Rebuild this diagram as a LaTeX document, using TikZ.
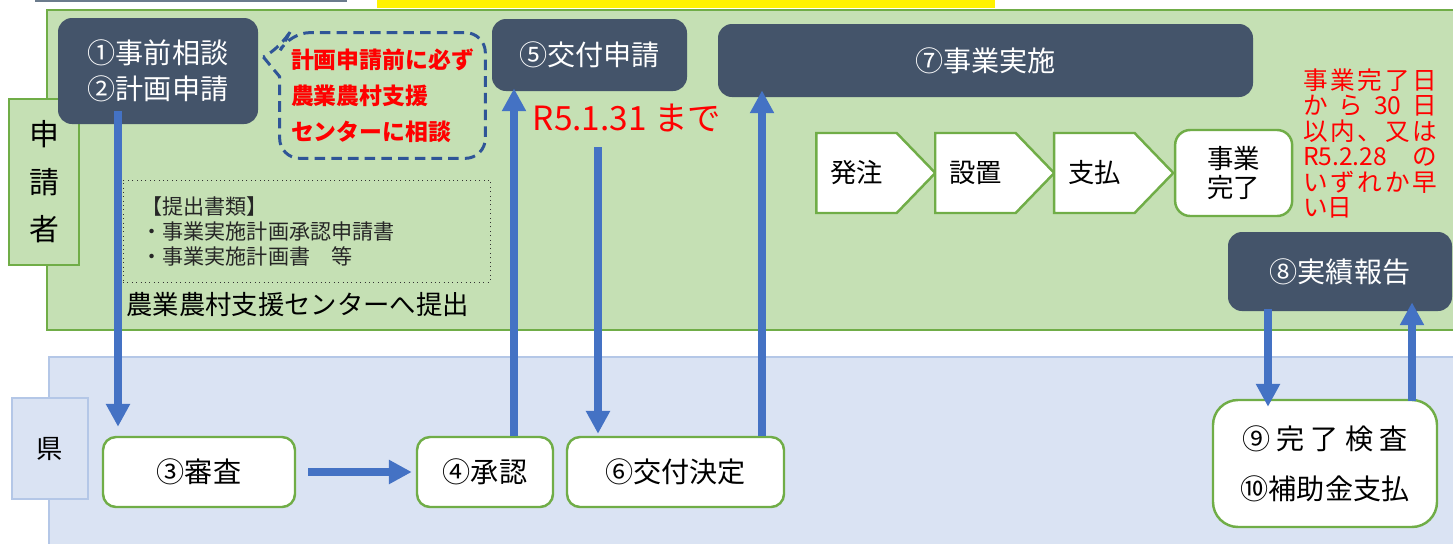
\documentclass[tikz,border=0pt]{standalone}
\usepackage{fontspec}
\setmainfont{Noto Sans CJK JP}
\usepackage{xcolor}
\usetikzlibrary{arrows.meta,shapes,positioning,calc}
\definecolor{panelgreen}{HTML}{C5E0B4}
\definecolor{greenline}{HTML}{70AD47}
\definecolor{panelblue}{HTML}{DAE3F3}
\definecolor{blueline}{HTML}{B4C7E7}
\definecolor{slate}{HTML}{44546A}
\definecolor{flowblue}{HTML}{4472C4}
\definecolor{calloutblue}{HTML}{2F5597}
\definecolor{topgray}{HTML}{6B7B8C}
\newcommand{\spreadline}[1]{\makebox[2.68cm][s]{#1}}

\begin{document}
\begin{tikzpicture}[
    darkbox/.style={rectangle, fill=slate, rounded corners=0.28cm, text=white, align=center, font=\fontsize{16}{20.5}\selectfont},
    whitebox/.style={rectangle, draw=greenline, line width=1.4pt, fill=white, rounded corners=0.26cm, align=center, font=\fontsize{16}{28.5}\selectfont},
    stepsig/.style={signal, signal to=east, signal pointer angle=92, draw=greenline, line width=1.4pt, fill=white, minimum width=2.38cm, minimum height=1.6cm, font=\fontsize{15}{18}\selectfont},
    lane/.style={rectangle, line width=1.4pt, align=center},
    flow/.style={draw=flowblue, line width=4pt, -{Triangle[width=13pt,length=13pt]}}
]
    \clip (0,0) rectangle (29.06,-10.88);

    % lanes
    \draw[draw=greenline, fill=panelgreen, line width=1.7pt] (0.94,-0.2) rectangle (29.5,-6.6);
    \draw[draw=blueline, fill=panelblue, line width=1.2pt] (0.98,-7.14) rectangle (29.5,-11.2);
    \fill[topgray] (0.7,0.1) rectangle (6.94,-0.04);
    \fill[yellow] (7.54,0.1) rectangle (19.9,-0.16);

    \node[lane, draw=greenline, fill=panelgreen, minimum width=1.4cm, minimum height=3.32cm, font=\fontsize{17}{27}\selectfont] (shinseisha) at (0.88,-3.64) {申\\請\\者};
    \node[lane, draw=blueline, fill=panelblue, minimum width=1.52cm, minimum height=2.02cm, font=\fontsize{15}{18}\selectfont] (ken) at (1.0,-8.97) {県};

    % applicant side
    \node[darkbox, minimum width=4cm, minimum height=2.12cm] (pre) at (3.16,-1.42) {①事前相談\\②計画申請};
    \node[minimum width=4.1cm, minimum height=2.5cm, text=red, align=left, font=\bfseries\fontsize{13}{20.5}\selectfont] (soudan) at (7.65,-1.91) {計画申請前に必ず\\農業農村支援\\センターに相談};
    \draw[calloutblue, dash pattern=on 6pt off 3.5pt, line width=1.7pt] ($(pre.east)+(0.1,0.28)$) -- ([yshift=-0.88cm]soudan.north west) [rounded corners=0.4cm] -- (soudan.south west) -- (soudan.south east) -- (soudan.north east) -- ([xshift=0.2cm]soudan.north west) -- ([xshift=0.04cm,yshift=-0.3cm]soudan.north west) [sharp corners] -- cycle;
    \node[darkbox, minimum width=3.9cm, minimum height=1.44cm] (kofu) at (11.79,-1.1) {⑤交付申請};
    \node[text=red, font=\fontsize{19}{21}\selectfont] (shimekiri) at (12.54,-2.36) {R5.1.31 まで};
    \node[darkbox, minimum width=10.7cm, minimum height=1.46cm] (jigyo) at (19.71,-1.21) {⑦事業実施};

    \node[rectangle, draw=black!80, dotted, line width=0.5pt, minimum width=7.34cm, minimum height=2.04cm, text width=6.6cm, inner xsep=0.37cm, align=left, text=black!85, font=\fontsize{12}{14.2}\selectfont] (shorui) at (6.13,-4.62) {【提出書類】\\・事業実施計画承認申請書\\・事業実施計画書　等};
    \node[anchor=west, inner sep=0, font=\fontsize{15}{18}\selectfont] (teishutsu) at (2.52,-6.1) {農業農村支援センターへ提出};

    \node[stepsig, signal from=nowhere] (hatchu) at (17.13,-3.46) {発注};
    \node[stepsig, right=-0.06cm of hatchu] (setchi) {設置};
    \node[stepsig, right=-0.06cm of setchi] (shiharai) {支払};
    \node[whitebox, right=-0.02cm of shiharai, minimum width=2.34cm, minimum height=1.72cm, rounded corners=0.3cm, font=\fontsize{15}{17}\selectfont] (kanryo) {事業\\完了};

    \node[text=red, align=left, inner sep=0, font=\fontsize{14}{14.5}\selectfont] (kigen) at (27.4,-2.87) {\spreadline{事\hfill 業\hfill 完\hfill 了\hfill 日}\\\spreadline{か\hfill ら\hfill 30\hfill 日}\\\spreadline{以\hfill 内\hfill 、\hfill 又\hfill は}\\\spreadline{R5.2.28\hfill の}\\\spreadline{い\hfill ず\hfill れ\hfill か\hfill 早}\\い日};

    \node[darkbox, minimum width=4.48cm, minimum height=1.58cm] (jisseki) at (26.8,-5.43) {⑧実績報告};

    % prefecture side
    \node[whitebox, minimum width=3.84cm, minimum height=1.4cm] (shinsa) at (3.98,-9.44) {③審査};
    \node[whitebox, minimum width=2.72cm, minimum height=1.4cm] (shonin) at (9.7,-9.44) {④承認};
    \node[whitebox, minimum width=4.34cm, minimum height=1.4cm] (kettei) at (13.51,-9.44) {⑥交付決定};
    \node[whitebox, minimum width=4.48cm, minimum height=2.54cm, rounded corners=0.5cm] (kensa) at (26.5,-9.27) {⑨ 完 了 検 査\\⑩補助金支払};

    % arrows
    \coordinate (a1top) at ([xshift=-0.8cm,yshift=0.26cm]pre.south);
    \coordinate (a3foot) at ([xshift=0.58cm]shonin.north);
    \coordinate (a4top) at (11.96,-2.94);
    \coordinate (a5foot) at ([xshift=1.73cm]kettei.north);
    \coordinate (a6top) at ([xshift=-1.44cm,yshift=0.04cm]jisseki.south);
    \coordinate (a7foot) at ([xshift=1.74cm,yshift=-0.04cm]kensa.north);

    \draw[flow, shorten >=0.18cm] (a1top) -- (a1top |- shinsa.north);
    \draw[flow, shorten <=0.24cm, shorten >=0.08cm] (shinsa) -- (shonin);
    \draw[flow, shorten >=-0.06cm] (a3foot) -- (a3foot |- kofu.south);
    \draw[flow, shorten >=0.04cm] (a4top) -- (a4top |- kettei.north);
    \draw[flow, shorten >=-0.14cm] (a5foot) -- (a5foot |- jigyo.south);
    \draw[flow, shorten >=-0.16cm] (a6top) -- (a6top |- kensa.north);
    \draw[flow, shorten >=-0.18cm] (a7foot) -- (a7foot |- jisseki.south);
\end{tikzpicture}
\end{document}
